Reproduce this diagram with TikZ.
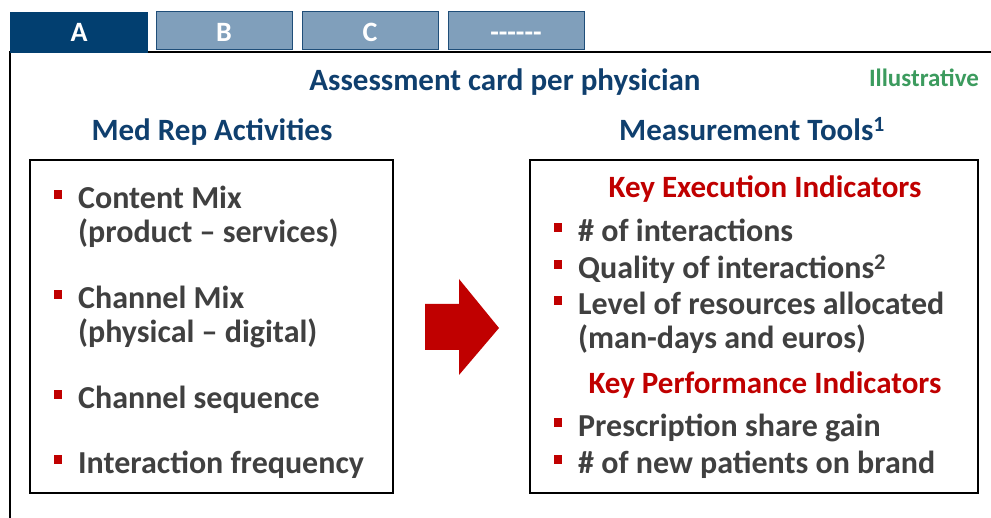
\documentclass[tikz,border=0pt]{standalone}
\usepackage{fontspec}
\setmainfont{Carlito}
\usetikzlibrary{positioning}
\definecolor{navy}{HTML}{0F3F6E}
\definecolor{tabdark}{HTML}{023F70}
\definecolor{tablight}{HTML}{809FBB}
\definecolor{tabline}{HTML}{1F4E79}
\definecolor{keyred}{HTML}{C00000}
\definecolor{greentxt}{HTML}{3C9B5E}
\definecolor{bodygray}{HTML}{404040}
\newcommand{\bul}{\llap{\textcolor{keyred}{\rule[10pt]{8pt}{8.5pt}}\hspace{16pt}}}

\begin{document}
\begin{tikzpicture}[x=1pt, y=-1pt,
    tab/.style={draw=tabline, line width=1pt, fill=tablight},
    tabtext/.style={text=white, font=\fontsize{28}{32}\selectfont\bfseries, anchor=base},
    heading/.style={text=navy, font=\fontsize{31}{36}\selectfont\bfseries, anchor=base},
    subhead/.style={text=keyred, font=\fontsize{31}{36}\selectfont\bfseries, anchor=base},
    entry/.style={text=bodygray, font=\fontsize{32}{34}\selectfont\bfseries, anchor=base west, align=left, inner sep=0pt},
    card/.style={draw=black, line width=2pt}
]
\useasboundingbox (0,0) rectangle (991,518);
% frame and tabs
\draw[line width=2pt] (10,518) -- (10,52) -- (991,52);
\fill[tabdark] (10,12) rectangle (148,53);
\draw[tab] (156,12) rectangle (292,50);
\draw[tab] (302,12) rectangle (438,50);
\draw[tab] (448,12) rectangle (584,50);
\node[tabtext] (tabA) at (79,42) {A};
\node[tabtext] (tabB) at (224,42) {B};
\node[tabtext] (tabC) at (370,42) {C};
\node[tabtext] (tabD) at (516,42) {-{}-{}-{}-{}-{}-};
% titles
\node[heading] (title) at (505,91) {Assessment card per physician};
\node[text=greentxt, font=\fontsize{25}{30}\selectfont\bfseries, anchor=base] (illus) at (924,87) {Illustrative};
\node[heading] (actHead) at (212,141) {Med Rep Activities};
\node[heading] (toolHead) at (752,141) {Measurement Tools\textsuperscript{1}};
% cards
\draw[card] (30,160) rectangle (393,493);
\draw[card] (530,160) rectangle (978,493);
% left list
\node[entry] (content) at (78,243) {\bul Content Mix\\(product -- services)};
\node[entry] (channel) at (78,343) {\bul Channel Mix\\(physical -- digital)};
\node[entry] (sequence) at (78,409) {\bul Channel sequence};
\node[entry] (frequency) at (78,474) {\bul Interaction frequency};
% arrow
\fill[keyred] (425,304) -- (459,304) -- (459,279) -- (499,328) -- (459,375) -- (459,350) -- (425,350) -- cycle;
% right list
\node[subhead] (kei) at (765,198) {Key Execution Indicators};
\node[entry] (numInt) at (578,242) {\bul\# of interactions};
\node[entry] (quality) at (578,279) {\bul Quality of interactions\textsuperscript{2}};
\node[entry] (level) at (578,349) {\bul Level of resources allocated\\(man-days and euros)};
\node[subhead] (kpi) at (765,394) {Key Performance Indicators};
\node[entry] (share) at (578,437) {\bul Prescription share gain};
\node[entry] (patients) at (578,474) {\bul\# of new patients on brand};
\end{tikzpicture}
\end{document}
